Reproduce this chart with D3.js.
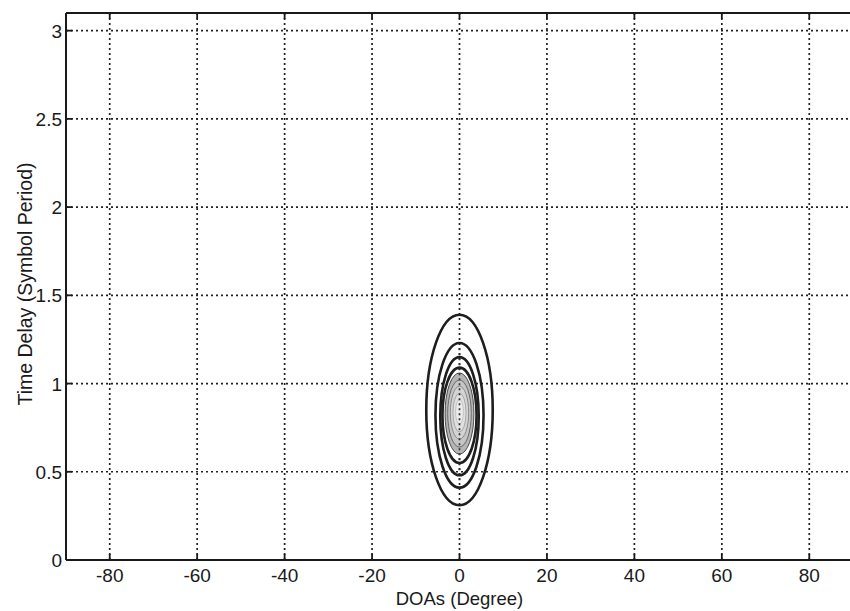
<!DOCTYPE html>
<html>
<head>
<meta charset="utf-8">
<script src="https://cdn.jsdelivr.net/npm/d3@7"></script>
<style>
  body { margin: 0; background: #fff; }
  svg text { font-family: "Liberation Sans", Arial, sans-serif; fill: #1a1a1a; }
</style>
</head>
<body>
<div id="chart"></div>
<script>
// axis ticks
var x_ticks = [-80, -60, -40, -20, 0, 20, 40, 60, 80]
var y_ticks = [0, 0.5, 1, 1.5, 2, 2.5, 3]

// main contour lines (dark), from outer to inner
var peak_doa = 0
var level_center = [0.85, 0.82, 0.815, 0.82]
var level_rx = [7.6, 5.5, 4.4, 3.9]      // half width in degree
var level_ry = [0.54, 0.41, 0.335, 0.27] // half height in symbol period

// inner light contours near the peak
var inner_center = [0.83, 0.83, 0.835, 0.835, 0.84]
var inner_rx = [3.3, 2.7, 2.1, 1.5, 0.9]
var inner_ry = [0.23, 0.19, 0.15, 0.11, 0.07]
var inner_stroke = ["#4a4a4a", "#6a6a6a", "#8a8a8a", "#a8a8a8", "#c4c4c4"]
var inner_fill = ["#b5b5b5", "#c6c6c6", "#d4d4d4", "#e0e0e0", "#ebebeb"]

var width = 850, height = 611

var svg = d3.select("#chart")
  .append("svg")
  .attr("width", width)
  .attr("height", height)

var x = d3.scaleLinear()
    .domain([-90, 90])
    .range([66, 853])
var y = d3.scaleLinear()
    .domain([0, 3.1])
    .range([560, 13])

// grid (dotted)
svg.append("g")
  .selectAll("line")
  .data(x_ticks)
  .enter()
  .append("line")
  .attr("x1", d => x(d)).attr("x2", d => x(d))
  .attr("y1", y(3.1)).attr("y2", y(0))
  .attr("stroke", "#222")
  .attr("stroke-width", 1.7)
  .attr("stroke-dasharray", "2,3")

svg.append("g")
  .selectAll("line")
  .data(y_ticks.filter(d => d > 0))
  .enter()
  .append("line")
  .attr("x1", x(-90)).attr("x2", width)
  .attr("y1", d => y(d)).attr("y2", d => y(d))
  .attr("stroke", "#222")
  .attr("stroke-width", 1.7)
  .attr("stroke-dasharray", "2,3")

// inner gray contours
svg.append("g")
  .selectAll("ellipse")
  .data(inner_rx)
  .enter()
  .append("ellipse")
  .attr("cx", x(peak_doa))
  .attr("cy", (d, i) => y(inner_center[i]))
  .attr("rx", d => x(d) - x(0))
  .attr("ry", (d, i) => y(0) - y(inner_ry[i]))
  .attr("fill", (d, i) => inner_fill[i])
  .attr("stroke", (d, i) => inner_stroke[i])
  .attr("stroke-width", 1)

// grid line over the peak stays visible
svg.append("line")
  .attr("x1", x(0)).attr("x2", x(0))
  .attr("y1", y(1.2)).attr("y2", y(0.45))
  .attr("stroke", "#333")
  .attr("stroke-width", 1.7)
  .attr("stroke-dasharray", "2,3")

// dark contours
svg.append("g")
  .selectAll("ellipse")
  .data(level_rx)
  .enter()
  .append("ellipse")
  .attr("cx", x(peak_doa))
  .attr("cy", (d, i) => y(level_center[i]))
  .attr("rx", d => x(d) - x(0))
  .attr("ry", (d, i) => y(0) - y(level_ry[i]))
  .attr("fill", "none")
  .attr("stroke", "#1e1e1e")
  .attr("stroke-width", 2.6)

// axes box
var axis_col = "#1a1a1a"
svg.append("line")
  .attr("x1", x(-90)).attr("x2", width)
  .attr("y1", y(0)).attr("y2", y(0))
  .attr("stroke", axis_col).attr("stroke-width", 2)
svg.append("line")
  .attr("x1", x(-90)).attr("x2", width)
  .attr("y1", y(3.1)).attr("y2", y(3.1))
  .attr("stroke", axis_col).attr("stroke-width", 2)
svg.append("line")
  .attr("x1", x(-90)).attr("x2", x(-90))
  .attr("y1", y(0)).attr("y2", y(3.1))
  .attr("stroke", axis_col).attr("stroke-width", 2)

// ticks pointing inward
var tick_len = 6
svg.append("g").selectAll("line")
  .data(x_ticks).enter().append("line")
  .attr("x1", d => x(d)).attr("x2", d => x(d))
  .attr("y1", y(0)).attr("y2", y(0) - tick_len)
  .attr("stroke", axis_col).attr("stroke-width", 1.8)
svg.append("g").selectAll("line")
  .data(x_ticks).enter().append("line")
  .attr("x1", d => x(d)).attr("x2", d => x(d))
  .attr("y1", y(3.1)).attr("y2", y(3.1) + tick_len)
  .attr("stroke", axis_col).attr("stroke-width", 1.8)
svg.append("g").selectAll("line")
  .data(y_ticks).enter().append("line")
  .attr("x1", x(-90)).attr("x2", x(-90) + tick_len)
  .attr("y1", d => y(d)).attr("y2", d => y(d))
  .attr("stroke", axis_col).attr("stroke-width", 1.8)

// tick labels
svg.append("g").selectAll("text")
  .data(x_ticks).enter().append("text")
  .attr("x", d => x(d))
  .attr("y", y(0) + 22)
  .attr("text-anchor", "middle")
  .attr("font-size", 19)
  .text(d => d)
svg.append("g").selectAll("text")
  .data(y_ticks).enter().append("text")
  .attr("x", x(-90) - 4)
  .attr("y", d => y(d) + 7)
  .attr("text-anchor", "end")
  .attr("font-size", 19)
  .text(d => d)

// axis titles
svg.append("text")
  .attr("x", x(0))
  .attr("y", 605)
  .attr("text-anchor", "middle")
  .attr("font-size", 18.5)
  .text("DOAs (Degree)")
svg.append("text")
  .attr("transform", "translate(32,284) rotate(-90)")
  .attr("text-anchor", "middle")
  .attr("font-size", 19.5)
  .text("Time Delay (Symbol Period)")
</script>
</body>
</html>
